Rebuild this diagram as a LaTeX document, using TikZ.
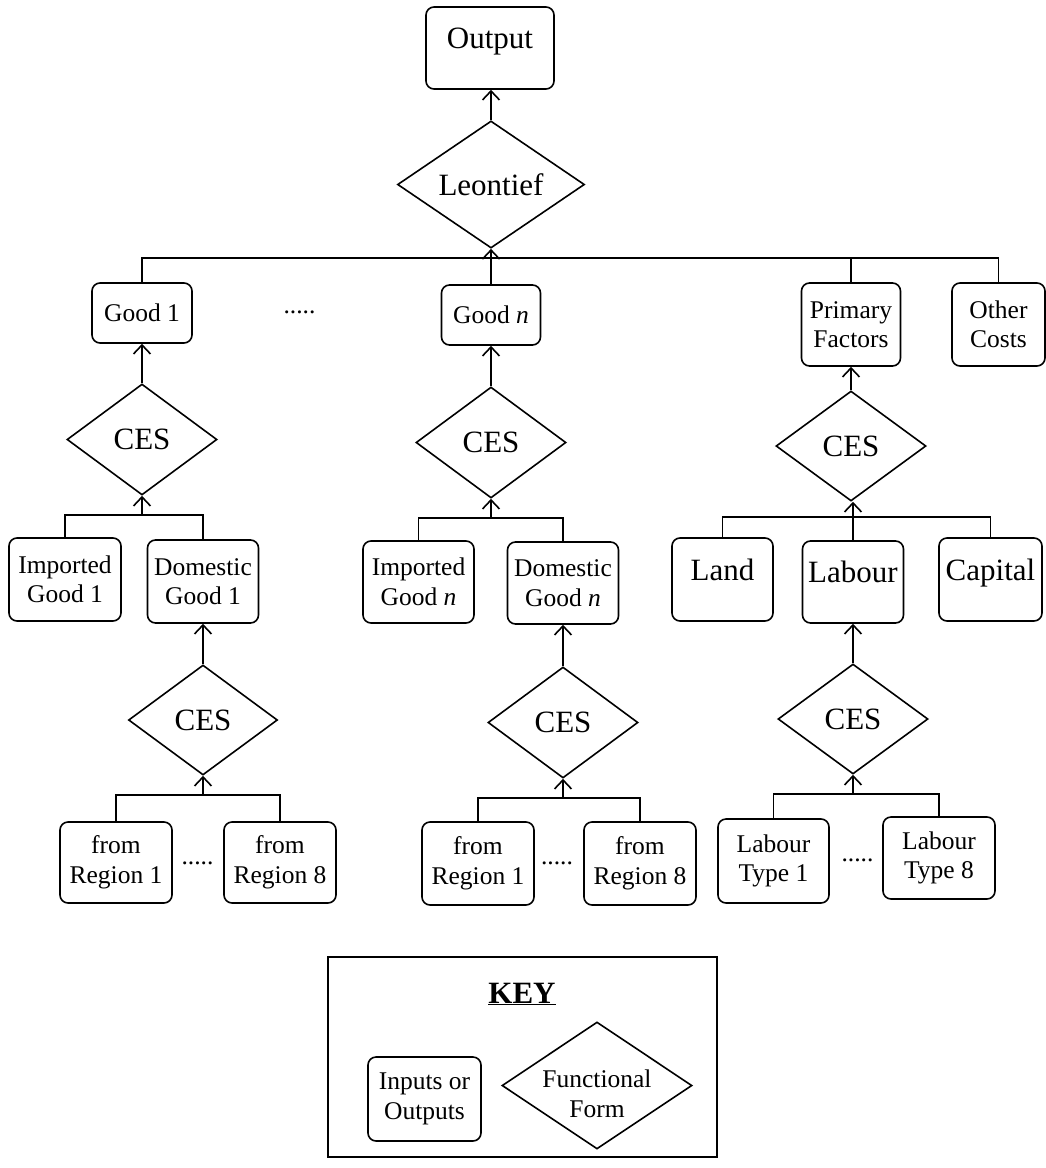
\documentclass[tikz,border=0pt]{standalone}
\usepackage{fontspec}
\setmainfont{Liberation Serif}
\usetikzlibrary{shapes.geometric,arrows.meta}
\newcommand\smf{\fontsize{25.5}{29.5}\selectfont}
\newcommand\lgf{\fontsize{31}{35}\selectfont}
\begin{document}
\begin{tikzpicture}[x=1pt,y=-1pt,
  box/.style={draw,rounded corners=8pt,line width=1.6pt,inner sep=0pt,align=center,font=\smf},
  dia/.style={draw,diamond,line width=1.6pt,inner sep=0pt,align=center,font=\lgf},
  smt/.style={inner sep=0pt,align=center,font=\smf},
  lgt/.style={inner sep=0pt,align=center,font=\lgf},
  ln/.style={line width=1.6pt},
  arr/.style={line width=1.6pt,-{Straight Barb[length=9pt,width=17pt]}}]
\useasboundingbox (0,0) rectangle (1046,1168);

% top
\node[box,minimum width=128pt,minimum height=82pt] (out) at (490,48) {};
\node[lgt,anchor=base] (outt) at (490,48) {Output};
\node[dia,minimum width=187pt,minimum height=125pt] (leon) at (491,184.5) {Leontief};
\draw[arr] (leon.north) -- (leon.north |- out.south);

% first row
\node[box,minimum width=100pt,minimum height=60pt] (g1) at (142,313) {Good 1};
\node[smt,anchor=base] (dots0) at (299.5,313) {.....};
\node[box,minimum width=99pt,minimum height=60pt] (gn) at (491,315) {Good \textit{n}};
\node[box,minimum width=99pt,minimum height=83pt] (pf) at (851,324.5) {Primary\\Factors};
\node[box,minimum width=93pt,minimum height=83pt] (oc) at (998.5,324.5) {Other\\Costs};
\coordinate (bus0) at (0,258);
\draw[ln] (g1.north) -- (g1.north |- bus0) -- (oc.north |- bus0) -- (oc.north);
\draw[ln] (pf.north) -- (pf.north |- bus0);
\draw[arr] (gn.north) -- (leon.south);

% CES level 1
\node[dia,minimum width=150pt,minimum height=111pt] (ces1) at (142,439.5) {CES};
\node[dia,minimum width=150pt,minimum height=111pt] (cesn) at (491,442.5) {CES};
\node[dia,minimum width=150pt,minimum height=110pt] (cesp) at (851,446) {CES};
\draw[arr] (ces1.north) -- (g1.south);
\draw[arr] (cesn.north) -- (gn.south);
\draw[arr] (cesp.north) -- (pf.south);

% second row
\node[box,minimum width=112pt,minimum height=83pt] (imp1) at (65,579.5) {Imported\\Good 1};
\node[box,minimum width=111pt,minimum height=83pt] (dom1) at (203,581.5) {Domestic\\Good 1};
\node[box,minimum width=111pt,minimum height=82pt] (impn) at (418.5,582) {Imported\\Good \textit{n}};
\node[box,minimum width=111pt,minimum height=82pt] (domn) at (563,583) {Domestic\\Good \textit{n}};
\node[box,minimum width=101pt,minimum height=83pt] (land) at (722.5,579.5) {};
\node[lgt,anchor=base] (landt) at (722.5,580) {Land};
\node[box,minimum width=101pt,minimum height=82pt] (lab) at (853,582) {};
\node[lgt,anchor=base] (labt) at (853,582) {Labour};
\node[box,minimum width=103pt,minimum height=83pt] (cap) at (990.5,579.5) {};
\node[lgt,anchor=base] (capt) at (990.5,580) {Capital};

\coordinate (bus1) at (0,515);
\coordinate (busn) at (0,518);
\coordinate (busp) at (0,517);
\draw[ln] (imp1.north) -- (imp1.north |- bus1) -- (dom1.north |- bus1) -- (dom1.north);
\draw[arr] (ces1.south |- bus1) -- (ces1.south);
\draw[ln] (impn.north) -- (impn.north |- busn) -- (domn.north |- busn) -- (domn.north);
\draw[arr] (cesn.south |- busn) -- (cesn.south);
\draw[ln] (land.north) -- (land.north |- busp) -- (cap.north |- busp) -- (cap.north);
\draw[arr] (lab.north) -- (lab.north |- cesp.south);

% CES level 2
\node[dia,minimum width=149pt,minimum height=110pt] (ces1b) at (203,720) {CES};
\node[dia,minimum width=150pt,minimum height=111pt] (cesnb) at (563,722.5) {CES};
\node[dia,minimum width=150pt,minimum height=110pt] (cesl) at (853,719) {CES};
\draw[arr] (ces1b.north) -- (dom1.south);
\draw[arr] (cesnb.north) -- (domn.south);
\draw[arr] (cesl.north) -- (lab.south);

% bottom row
\node[box,minimum width=112pt,minimum height=81pt] (r1a) at (116,862.5) {from\\Region 1};
\node[smt,anchor=base] (dots1) at (197.5,864) {.....};
\node[box,minimum width=112pt,minimum height=81pt] (r1b) at (280,862.5) {from\\Region 8};
\node[box,minimum width=112pt,minimum height=83pt] (rna) at (478,863.5) {from\\Region 1};
\node[smt,anchor=base] (dots2) at (557,864) {.....};
\node[box,minimum width=112pt,minimum height=83pt] (rnb) at (640,863.5) {from\\Region 8};
\node[box,minimum width=111pt,minimum height=84pt] (lt1) at (773.5,861) {Labour\\Type 1};
\node[smt,anchor=base] (dots3) at (857.5,861) {.....};
\node[box,minimum width=112pt,minimum height=82pt] (lt8) at (939,858) {Labour\\Type 8};

\coordinate (bus1b) at (0,795);
\coordinate (busnb) at (0,798);
\coordinate (busl) at (0,794);
\draw[ln] (r1a.north) -- (r1a.north |- bus1b) -- (r1b.north |- bus1b) -- (r1b.north);
\draw[arr] (ces1b.south |- bus1b) -- (ces1b.south);
\draw[ln] (rna.north) -- (rna.north |- busnb) -- (rnb.north |- busnb) -- (rnb.north);
\draw[arr] (cesnb.south |- busnb) -- (cesnb.south);
\draw[ln] (lt1.north) -- (lt1.north |- busl) -- (lt8.north |- busl) -- (lt8.north);
\draw[arr] (cesl.south |- busl) -- (cesl.south);

% key
\node[draw,line width=1.6pt,minimum width=389pt,minimum height=200pt,inner sep=0pt] (keybox) at (522.5,1057) {};
\node[lgt,anchor=base,font=\lgf\bfseries] (keyt) at (522,1003) {\underline{KEY}};
\node[box,minimum width=113pt,minimum height=84pt] (io) at (424.5,1099) {Inputs or\\Outputs};
\node[dia,minimum width=190pt,minimum height=127pt] (ff) at (597,1085.5) {};
\node[smt] (fft) at (597,1094) {Functional\\Form};
\end{tikzpicture}
\end{document}
